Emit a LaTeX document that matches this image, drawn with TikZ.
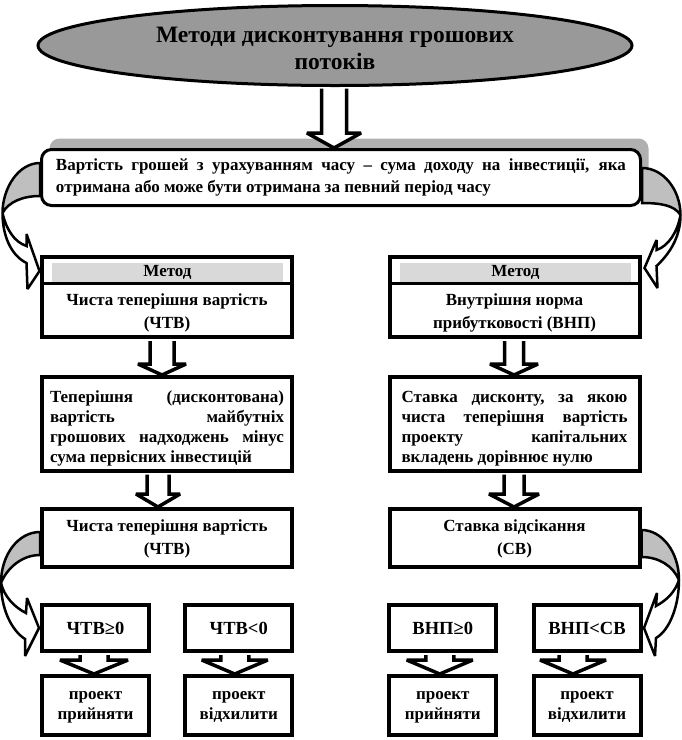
\documentclass[tikz,border=0pt]{standalone}
\usepackage{fontspec}
\setmainfont{Liberation Serif}
\usetikzlibrary{shapes.geometric,calc,shadows}
\newcommand{\bodyfont}{\bfseries\fontsize{17}{23}\selectfont}
\newcommand{\lowfont}{\bfseries\fontsize{17}{20}\selectfont}
\newcommand{\bigfont}{\bfseries\fontsize{18.5}{22}\selectfont}
\newcommand{\titlefont}{\bfseries\fontsize{23.5}{27}\selectfont}
\newcommand{\harrow}[7]{%
  \draw[hollow] let \p1=(#1.south), \p2=(#2.north) in
    (\x1+#3-#4,\y1-#7) -- (\x1+#3-#4,\y2+#6) -- (\x1+#3-#5,\y2+#6) -- (\x1+#3,\y2)
    -- (\x1+#3+#5,\y2+#6) -- (\x1+#3+#4,\y2+#6) -- (\x1+#3+#4,\y1-#7);}
\tikzset{
  box/.style={draw, line width=4pt, fill=white, inner sep=0pt, align=center, font=\bodyfont},
  twoline/.style={text height=35pt, text depth=2pt},
  twolow/.style={text height=32pt, text depth=4pt, font=\lowfont},
  oneline/.style={text height=12pt, text depth=0pt, font=\bigfont},
  txt/.style={inner sep=0pt, align=center, font=\bodyfont, twoline},
  hdr/.style={fill=gray!30, minimum width=231pt, minimum height=19pt, inner sep=0pt, font=\bodyfont},
  divider/.style={line width=3pt},
  hollow/.style={draw, line width=3.5pt, fill=white, line join=miter, miter limit=3},
  curvw/.style={draw, line width=2.5pt, fill=white, line join=miter, miter limit=3},
  curvg/.style={draw, line width=2.5pt, fill=gray!50, line join=miter, miter limit=3},
  ell/.style={ellipse, draw, line width=3pt, fill=gray!80, minimum width=587pt, minimum height=80pt, inner sep=0pt, font=\titlefont},
  topbox/.style={draw, line width=3pt, rounded corners=10pt, fill=white, minimum width=599pt, minimum height=56pt, inner sep=0pt,
    drop shadow={shadow xshift=8pt, shadow yshift=11pt, fill=gray!62, opacity=1}},
  colbox/.style={box, minimum width=250pt},
  smallbox/.style={box, minimum width=107pt}
}
\begin{document}
\begin{tikzpicture}[x=1pt, y=-1pt]
\useasboundingbox (0,0) rectangle (682,740);

% title
\node[ell] (title) at (335,45.5) {\raisebox{-3pt}[\height][\depth]{\parbox{420pt}{\centering\titlefont Методи дисконтування грошових\\потоків}}};

% top box
\node[topbox] (top) at (341,177.5) {\parbox{570pt}{\bfseries\fontsize{17}{22}\selectfont Вартість грошей з урахуванням часу -- сума доходу на інвестиції, яка\linebreak отримана або може бути отримана за певний період часу}};

% left column
\node[colbox, minimum height=80pt] (m1) at (167,297) {};
\node[hdr] (h1) at (167.5,272.5) {Метод};
\draw[divider] ([yshift=-1.5pt]h1.south -| m1.west) -- ([yshift=-1.5pt]h1.south -| m1.east);
\node[txt] (t1) at (167,312) {Чиста теперішня вартість\\(ЧТВ)};

\node[colbox, minimum height=93.5pt] (m2) at (167,423.75) {\raisebox{-5pt}[\height][\depth]{\parbox{234pt}{\lowfont
Теперішня\hfill(дисконтована)\\
вартість\hfill майбутніх\\
грошових\hfill надходжень\hfill мінус\\
сума первісних інвестицій}}};

\node[colbox, minimum height=58pt, twoline] (m3) at (167,538) {Чиста теперішня вартість\\(ЧТВ)};

\node[smallbox, minimum height=46pt, oneline] (s1) at (95.5,628) {ЧТВ≥0};
\node[smallbox, minimum height=46pt, oneline] (s2) at (238.75,628) {ЧТВ<0};
\node[smallbox, minimum height=59pt, twolow] (b1) at (95.5,705.5) {проект\\прийняти};
\node[smallbox, minimum height=59pt, twolow] (b2) at (238.75,705.5) {проект\\відхилити};

% right column
\node[colbox, minimum height=80pt] (r1) at (514.5,297) {};
\node[hdr] (h2) at (515.5,272.5) {Метод};
\draw[divider] ([yshift=-1.5pt]h2.south -| r1.west) -- ([yshift=-1.5pt]h2.south -| r1.east);
\node[txt] (t2) at (514.5,312) {Внутрішня норма\\прибутковості (ВНП)};

\node[colbox, minimum height=93.5pt] (r2) at (514.5,423.75) {\raisebox{-5pt}[\height][\depth]{\parbox{226pt}{\lowfont
Ставка\hfill дисконту,\hfill за\hfill якою\\
чиста\hfill теперішня\hfill вартість\\
проекту\hfill капітальних\\
вкладень дорівнює нулю}}};

\node[colbox, minimum height=58pt, twoline] (r3) at (514.5,538) {Ставка відсікання\\(СВ)};

\node[smallbox, minimum height=46pt, oneline] (s3) at (442.75,628) {ВНП≥0};
\node[smallbox, minimum height=46pt, oneline] (s4) at (587,628) {ВНП<СВ};
\node[smallbox, minimum height=59pt, twolow] (b3) at (442.75,705.5) {проект\\прийняти};
\node[smallbox, minimum height=59pt, twolow] (b4) at (587,705.5) {проект\\відхилити};

% straight hollow arrows
\harrow{title}{top}{-1pt}{12.5pt}{27pt}{15pt}{1.5pt}
\harrow{m1}{m2}{-5pt}{12pt}{24pt}{11pt}{2pt}
\harrow{m2}{m3}{-9pt}{11pt}{22pt}{13pt}{2pt}
\harrow{r1}{r2}{-0.5pt}{9.5pt}{24pt}{11pt}{2pt}
\harrow{r2}{r3}{-0.5pt}{10pt}{25pt}{13pt}{2pt}
\harrow{s1}{b1}{-1.5pt}{14pt}{34pt}{14pt}{2pt}
\harrow{s2}{b2}{-4pt}{14pt}{33pt}{14pt}{2pt}
\harrow{s3}{b3}{-3pt}{14pt}{33pt}{14pt}{2pt}
\harrow{s4}{b4}{-14pt}{14pt}{33pt}{14pt}{2pt}

% curved arrow: top box -> left method box
\begin{scope}[shift={($(top.west)-(41.5,177.5)$)}]
  \path[curvg] (41.5,163) .. controls (20,163) and (4,188) .. (4,213)
     .. controls (10,202) and (24,196) .. (41.5,196) -- cycle;
  \path[curvw] (4,213) .. controls (4,235) and (12,255) .. (28,263)
     -- (29,289) -- (41,271) -- (28,234) -- (28,246)
     .. controls (16,242) and (8,230) .. (4,213) -- cycle;
\end{scope}
% curved arrow: top box -> right method box
\begin{scope}[shift={($(top.east)-(640.5,177.5)$)}]
  \path[curvg] (640.5,168) .. controls (662,168) and (679,190) .. (679,215)
     .. controls (673,205) and (658,203) .. (640.5,203) -- cycle;
  \path[curvw] (679,215) .. controls (679,235) and (670,252) .. (655,266)
     -- (656,288) -- (643,268) -- (655,240) -- (655,250)
     .. controls (667,246) and (676,232) .. (679,215) -- cycle;
\end{scope}
% curved arrow: left NPV box -> small boxes
\begin{scope}[shift={($(m3.west)-(42,538)$)}]
  \path[curvg] (42,532) .. controls (20,532) and (3,555) .. (3,583)
     .. controls (9,568) and (24,555) .. (42,555) -- cycle;
  \path[curvw] (3,583) .. controls (3,608) and (13,630) .. (27,639)
     -- (27,656) -- (41,628) -- (29,598) -- (28,613)
     .. controls (16,607) and (6,596) .. (3,583) -- cycle;
\end{scope}
% curved arrow: right cut-off box -> small boxes
\begin{scope}[shift={($(r3.east)-(639.5,538)$)}]
  \path[curvg] (639.5,530) .. controls (660,530) and (677,552) .. (677,580)
     .. controls (671,566) and (657,557) .. (639.5,557) -- cycle;
  \path[curvw] (677,580) .. controls (677,605) and (668,630) .. (654,638)
     -- (653,656) -- (642,628) -- (655,593) -- (654,606)
     .. controls (665,600) and (673,592) .. (677,580) -- cycle;
\end{scope}
\end{tikzpicture}
\end{document}
